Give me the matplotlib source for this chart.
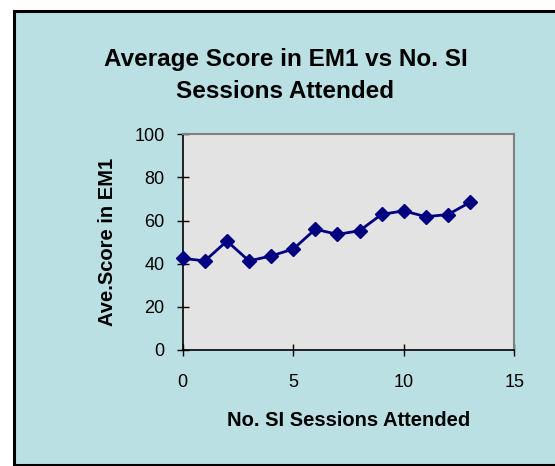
import matplotlib
matplotlib.use("Agg")
import matplotlib.pyplot as plt
from matplotlib.patches import Rectangle

sessions = [0, 1, 2, 3, 4, 5, 6, 7, 8, 9, 10, 11, 12, 13]
avg_score = [42.5, 41.3, 50.5, 41.3, 43.6, 46.8, 56.0, 53.6, 55.3, 62.9, 64.5, 61.8, 62.8, 68.5]
x_ticks = [0, 5, 10, 15]
y_ticks = [0, 20, 40, 60, 80, 100]

plt.rcParams['font.family'] = ['Liberation Sans', 'DejaVu Sans']

W, H = 555, 466
fig = plt.figure(figsize=(W / 100, H / 100), dpi=100)
fig.patch.set_facecolor('white')

# outer chart area frame
frame = Rectangle((14 / W, 1 - 465 / H), (W + 10 - 14) / W, (465 - 11) / H,
                  transform=fig.transFigure, facecolor='#BAE0E3',
                  edgecolor='black', linewidth=2.2, zorder=-5)
fig.patches.append(frame)

ax_left, ax_right, ax_top, ax_bottom = 182.7, 514.3, 134.3, 350.0
ax = fig.add_axes([ax_left / W, 1 - ax_bottom / H, (ax_right - ax_left) / W, (ax_bottom - ax_top) / H])
ax.set_zorder(2)
ax.set_facecolor('#E3E3E3')
ax.plot(sessions, avg_score, color='#000080', linewidth=2, marker='D',
        markersize=7, markerfacecolor='#000080', markeredgecolor='#000080',
        clip_on=False, zorder=3)

ax.set_xlim(0, 15)
ax.set_ylim(0, 100)
ax.set_xticks(x_ticks)
ax.set_yticks(y_ticks)
ax.tick_params(direction='inout', length=8, width=1, labelsize=13,
               colors='black')
ax.tick_params(axis='y', pad=9)
ax.tick_params(axis='x', pad=13)

for side in ['top', 'right']:
    ax.spines[side].set_color('#808080')
    ax.spines[side].set_linewidth(1.5)
for side in ['left', 'bottom']:
    ax.spines[side].set_color('black')
    ax.spines[side].set_linewidth(1.2)

ax.set_xlabel('No. SI Sessions Attended', fontsize=14.5, fontweight='bold')
ax.set_ylabel('Ave.Score in EM1', fontsize=14.5, fontweight='bold')
aw = ax_right - ax_left
ah = ax_bottom - ax_top
ax.xaxis.set_label_coords((349 - ax_left) / aw, (ax_bottom - 425.7) / ah)
ax.xaxis.label.set_va('baseline')
ax.yaxis.set_label_coords((112.7 - ax_left) / aw, (ax_bottom - 242.3) / ah)
ax.yaxis.label.set_va('baseline')

fig.text(285.5 / W, 1 - 75.5 / H, 'Average Score in EM1 vs No. SI\nSessions Attended',
         ha='center', va='center', fontsize=17.5, fontweight='bold', linespacing=1.5)

fig.savefig('out.png', dpi=100, facecolor=fig.get_facecolor())
